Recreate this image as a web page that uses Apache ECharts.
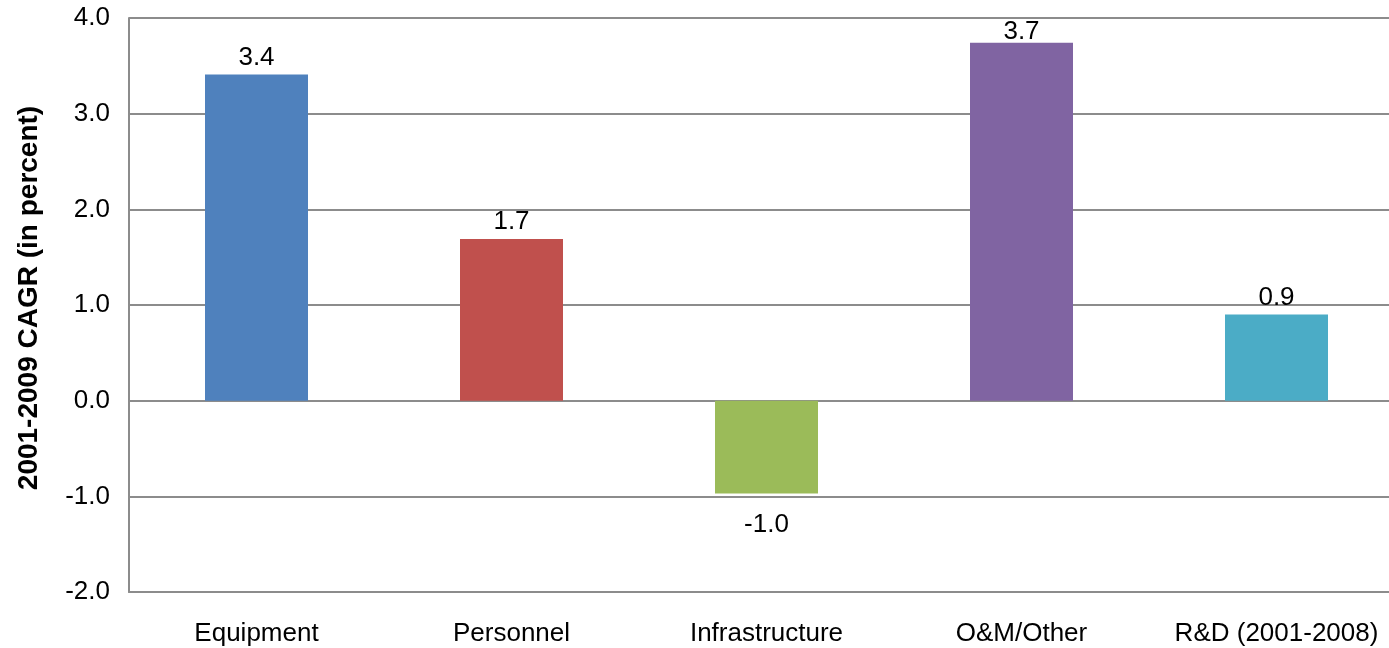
<!DOCTYPE html>
<html>
<head>
<meta charset="utf-8">
<script src="https://cdn.jsdelivr.net/npm/echarts@6/dist/echarts.min.js"></script>
<style>
  html, body { margin: 0; padding: 0; background: #fff; }
  #chart { width: 1389px; height: 648px; }
</style>
</head>
<body>
<div id="chart"></div>
<script>
// Spending categories and their 2001-2009 compound annual growth rates (%)
const categories = ['Equipment', 'Personnel', 'Infrastructure', 'O&M/Other', 'R&D (2001-2008)'];
const cagrValues = [3.41, 1.69, -0.97, 3.74, 0.9];
const barColors = ['#4F81BD', '#C0504D', '#9BBB59', '#8064A2', '#4BACC6'];
const yAxisTitle = '2001-2009 CAGR (in percent)';

const Y_MIN = -2, Y_MAX = 4;
const FONT = '"Liberation Sans", Arial, sans-serif';

// Labels sit above positive bars and below negative ones; a label close to
// the top of the axis is pulled down so it stays inside the plot area.
const seriesData = cagrValues.map((v, i) => ({
  value: v,
  itemStyle: { color: barColors[i] },
  label: v < 0
    ? { position: 'bottom', distance: 18 }
    : { position: 'top', distance: (Y_MAX - v) < 0.35 ? -2 : 4 }
}));

const chart = echarts.init(document.getElementById('chart'));
chart.setOption({
  animation: false,
  // plot area runs a little past the right edge of the canvas
  grid: { left: 129, width: 1275, top: 18, bottom: 56, outerBoundsMode: 'none', containLabel: false },
  xAxis: {
    type: 'category',
    data: categories,
    axisLine: { show: true, onZero: false, lineStyle: { color: '#8c8c8c', width: 2 } },
    axisTick: { show: false },
    axisLabel: { color: '#000', fontFamily: FONT, fontSize: 26, margin: 29, interval: 0 }
  },
  yAxis: {
    type: 'value',
    min: Y_MIN,
    max: Y_MAX,
    interval: 1,
    name: yAxisTitle,
    nameLocation: 'middle',
    nameGap: 86,
    nameRotate: 90,
    nameTextStyle: {
      color: '#000', fontFamily: FONT, fontSize: 28, fontWeight: 'bold',
      padding: [0, 0, 0, 14]
    },
    axisLine: { show: true, lineStyle: { color: '#8c8c8c', width: 2 } },
    axisTick: { show: false },
    axisLabel: {
      color: '#000', fontFamily: FONT, fontSize: 26, margin: 19,
      formatter: v => v.toFixed(1)
    },
    splitLine: { show: true, lineStyle: { color: '#8c8c8c', width: 2 } }
  },
  series: [{
    type: 'bar',
    data: seriesData,
    barWidth: 103,
    label: {
      show: true,
      color: '#000',
      fontFamily: FONT,
      fontSize: 26,
      formatter: p => p.value.toFixed(1)
    }
  }]
});
</script>
</body>
</html>
